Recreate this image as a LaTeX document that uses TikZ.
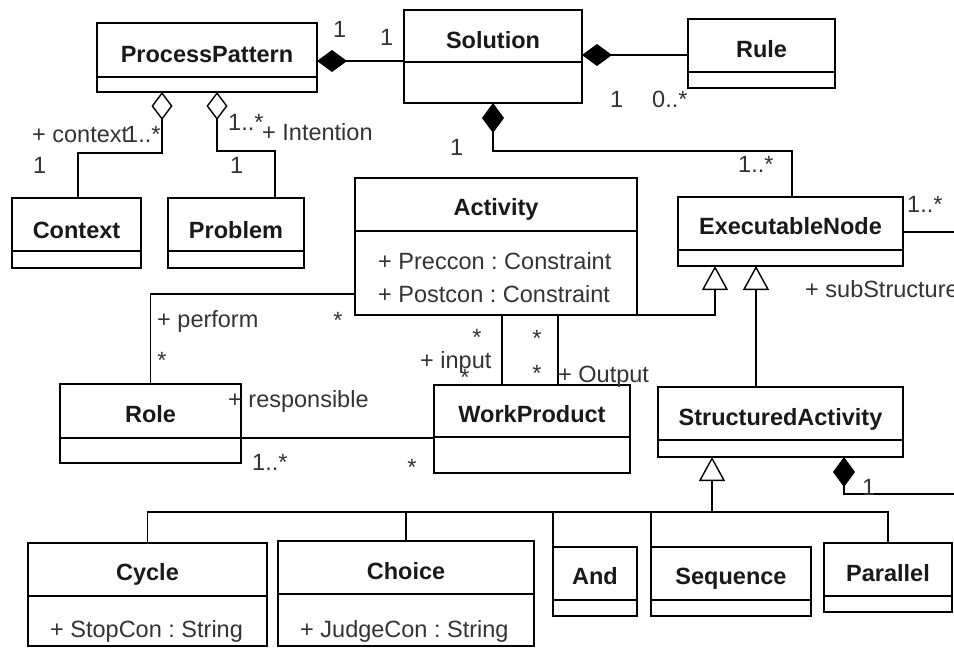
\documentclass[tikz,border=0pt]{standalone}
\usepackage{fontspec}
\setmainfont{Liberation Sans}
\usetikzlibrary{arrows.meta}
\frenchspacing
\newcommand\umlcls[8]{%
  \node[clsbox, minimum width={(#4)-(#2)}, minimum height={(#5)-(#3)}] (#1) at ({((#2)+(#4))/2},{((#3)+(#5))/2}) {};
  \draw[divline] (#1.west |- 0,#6) -- (#1.east |- 0,#6);
  \node[title, anchor=base] (#1-t) at ({((#2)+(#4))/2},#8) {#7};
}
\begin{document}
\begin{tikzpicture}[x=1pt,y=-1pt,
  clsbox/.style={draw, line width=2.6pt, inner sep=0pt, outer sep=0pt},
  divline/.style={line width=1.6pt},
  title/.style={font=\fontsize{23.5}{28}\selectfont\bfseries\frenchspacing, inner sep=0pt, text=black!90},
  attr/.style={font=\fontsize{23.5}{28}\selectfont\frenchspacing, inner sep=0pt, text=black!80},
  lbl/.style={attr, anchor=base west},
  star/.style={attr, anchor=base},
  conn/.style={line width=1.4pt},
  comp/.style={conn, -{Diamond[length=30pt,width=22pt,fill=black]}},
  agg/.style={conn, -{Diamond[open,length=28pt,width=21pt,fill=white]}},
  gen/.style={conn, -{Triangle[open,length=24pt,width=26pt,fill=white]}},
]
\useasboundingbox (0,0) rectangle (954,648);
\fill[white] (0,0) rectangle (954,648);

% classes
\umlcls{pp}{97}{23}{317}{92}{77}{ProcessPattern}{62}
\umlcls{sol}{404}{10}{582}{103}{62}{Solution}{48}
\umlcls{rule}{688}{19}{835}{88}{72}{Rule}{57}
\umlcls{ctx}{12}{198}{141}{268}{251}{Context}{238}
\umlcls{prob}{168}{198}{304}{268}{251}{Problem}{238}
\umlcls{act}{355}{178}{637}{315}{231}{Activity}{215}
\umlcls{en}{678}{197}{903}{266}{250}{ExecutableNode}{234}
\umlcls{sa}{658}{387}{903}{457}{440}{StructuredActivity}{425}
\umlcls{role}{60}{384}{241}{463}{438}{Role}{422}
\umlcls{wp}{434}{385}{630}{473}{437}{WorkProduct}{422}
\umlcls{cyc}{28}{543}{267}{646}{596}{Cycle}{580}
\umlcls{cho}{278}{541}{534}{646}{594}{Choice}{579}
\umlcls{andn}{553}{547}{637}{616}{600}{And}{584}
\umlcls{seq}{651}{547}{811}{616}{600}{Sequence}{584}
\umlcls{par}{824}{543}{952}{612}{596}{Parallel}{581}

% attributes
\node[lbl] (a1) at (378,269) {+ Preccon : Constraint};
\node[lbl] (a2) at (378,302) {+ Postcon : Constraint};
\node[lbl] (a3) at (50,637) {+ StopCon : String};
\node[lbl] (a4) at (300,637) {+ JudgeCon : String};

% connectors
\draw[comp] (sol.west |- 0,61) -- (pp.east |- 0,61);
\draw[comp] (rule.west |- 0,55) -- (sol.east |- 0,55);
\draw[comp] (en.north -| 792,0) |- (493,151) -- (sol.south);
\draw[agg] (ctx.north -| 78,0) |- (162,153) -- (pp.south -| 162,0);
\draw[agg] (prob.north -| 275,0) |- (217,151) -- (pp.south -| 217,0);
\draw[gen] (act.south east) -| (en.south -| 715,0);
\draw[gen] (sa.north -| 756,0) -- (en.south -| 756,0);
\coordinate (bus) at (712,512);
\draw[gen] (bus) -- (sa.south -| bus);
\draw[conn] (cyc.north) |- (bus) -| (par.north);
\draw[conn] (cho.north) -- (cho.north |- bus);
\draw[conn] (andn.north west) -- (andn.north west |- bus);
\draw[conn] (seq.north west) -- (seq.north west |- bus);
\coordinate (rb) at (954,494);
\draw[comp] (rb) -| (sa.south -| 844,0);
\coordinate (ra) at (954,232);
\draw[conn] (en.east |- ra) -- (ra);
\draw[conn] (act.west |- 0,294) -| (role.north);
\draw[conn] (act.south -| 502,0) -- (wp.north -| 502,0);
\draw[conn] (act.south -| 558,0) -- (wp.north -| 558,0);
\draw[conn] (role.east |- 0,438) -- (wp.west |- 0,438);

% multiplicities and role names
\node[lbl] (m1) at (333,37) {1};
\node[lbl] (m2) at (380,45) {1};
\node[lbl] (m3) at (610,107) {1};
\node[lbl] (m4) at (652,107) {0..*};
\node[lbl] (m5) at (450,155) {1};
\node[lbl] (m6) at (738,172) {1..*};
\node[lbl] (m7) at (32,142) {+ context};
\node[lbl] (m8) at (125,142) {1..*};
\node[lbl] (m9) at (33,173) {1};
\node[lbl] (m10) at (228,130) {1..*};
\node[lbl] (m11) at (262,140) {+ Intention};
\node[lbl] (m12) at (230,173) {1};
\node[lbl] (m13) at (157,327) {+ perform};
\node[lbl] (m14) at (907,212) {1..*};
\node[lbl] (m15) at (805,297) {+ subStructure};
\node[lbl] (m16) at (420,368) {+ input};
\node[lbl] (m17) at (558,382) {+ Output};
\node[lbl] (m18) at (228,407) {+ responsible};
\node[lbl] (m19) at (252,470) {1..*};
\node[lbl] (m20) at (862,495) {1};
\node[star] (s1) at (338,328) {*};
\node[star] (s2) at (162,368) {*};
\node[star] (s3) at (477,345) {*};
\node[star] (s4) at (465,385) {*};
\node[star] (s5) at (537,346) {*};
\node[star] (s6) at (537,381) {*};
\node[star] (s7) at (412,475) {*};
\end{tikzpicture}
\end{document}
